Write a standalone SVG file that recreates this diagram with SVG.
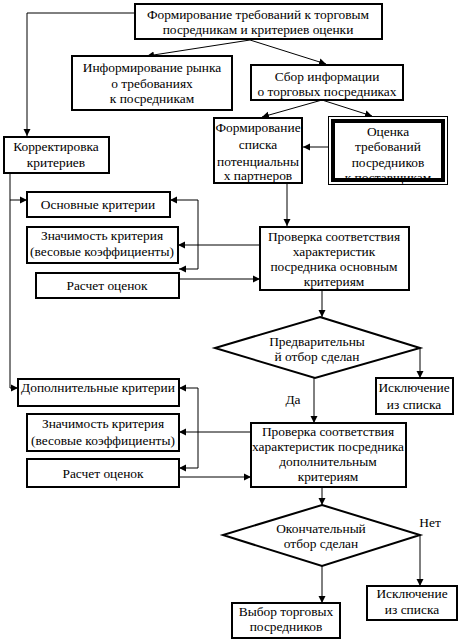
<svg xmlns="http://www.w3.org/2000/svg" width="459" height="642" viewBox="0 0 459 642">
<defs>
<marker id="ah" markerUnits="userSpaceOnUse" markerWidth="8" markerHeight="8" refX="7" refY="4" orient="auto">
<path d="M0,0.5 L7,4 L0,7.5 Z" fill="#000"/>
</marker>
<style>
.b{fill:#fff;stroke:#000;stroke-width:2}
.t{font-family:"Liberation Serif","Times New Roman",serif;font-size:13.4px;fill:#000;text-anchor:middle}
.c{fill:none;stroke:#000;stroke-width:1}
.a{marker-end:url(#ah)}
</style>
</defs>
<rect width="459" height="642" fill="#fff"/>
<g id="connectors">
<polyline class="c a" points="135,13 27,13 27,136"/>
<line class="c a" x1="250" y1="40" x2="147" y2="56"/>
<line class="c a" x1="250" y1="40" x2="326" y2="64"/>
<line class="c a" x1="322" y1="100" x2="262" y2="117"/>
<line class="c a" x1="322" y1="100" x2="372" y2="116"/>
<line class="c a" x1="328" y1="147" x2="303" y2="147"/>
<line class="c a" x1="287" y1="183" x2="287" y2="226"/>
<polyline class="c a" points="10,173 10,388 18,388"/>
<line class="c a" x1="10" y1="200" x2="27" y2="200"/>
<line class="c a" x1="260" y1="245" x2="178" y2="245"/>
<polyline class="c a" points="198,269 198,200 170,200"/>
<line class="c a" x1="198" y1="269" x2="179" y2="269"/>
<line class="c a" x1="179" y1="279" x2="260" y2="279"/>
<line class="c a" x1="322" y1="290" x2="322" y2="317"/>
<line class="c a" x1="420" y1="348" x2="420" y2="378"/>
<line class="c a" x1="314" y1="378" x2="314" y2="423"/>
<line class="c a" x1="251" y1="432" x2="179" y2="432"/>
<polyline class="c a" points="198,468 198,388 179,388"/>
<line class="c a" x1="198" y1="468" x2="179" y2="468"/>
<line class="c a" x1="179" y1="477" x2="251" y2="477"/>
<line class="c a" x1="322" y1="487" x2="322" y2="505"/>
<line class="c a" x1="420" y1="535" x2="420" y2="586"/>
<line class="c a" x1="322" y1="566" x2="322" y2="603"/>
</g>
<g id="n_top">
<rect class="b" x="135" y="4" width="247" height="35"/>
<text class="t" x="258" y="19">Формирование требований к торговым</text>
<text class="t" x="258" y="34">посредникам и критериев оценки</text>
</g>
<g id="n_inform">
<rect class="b" x="72" y="56" width="160" height="54"/>
<text class="t" x="152" y="72">Информирование рынка</text>
<text class="t" x="152" y="88">о требованиях</text>
<text class="t" x="152" y="103">к посредникам</text>
</g>
<g id="n_sbor">
<rect class="b" x="251" y="65" width="152" height="35"/>
<text class="t" x="327" y="81">Сбор информации</text>
<text class="t" x="327" y="96">о торговых посредниках</text>
</g>
<g id="n_spisok">
<rect class="b" x="214" y="118" width="88" height="65"/>
<text class="t" x="258" y="132">Формирование</text>
<text class="t" x="258" y="149">списка</text>
<text class="t" x="258" y="166">потенциальны</text>
<text class="t" x="258" y="180">х партнеров</text>
</g>
<g id="n_ocenka">
<rect x="328.5" y="116.5" width="119" height="68" fill="#fff" stroke="#000" stroke-width="1"/>
<text class="t" x="388" y="136">Оценка</text>
<text class="t" x="388" y="151">требований</text>
<text class="t" x="388" y="167">посредников</text>
<text class="t" x="388" y="182">к поставщикам</text>
<rect x="333" y="121" width="110" height="59" fill="none" stroke="#000" stroke-width="4"/>
</g>
<g id="n_korr">
<rect class="b" x="4" y="137" width="105" height="36"/>
<text class="t" x="56" y="151">Корректировка</text>
<text class="t" x="56" y="167">критериев</text>
</g>
<g id="n_osn">
<rect class="b" x="27" y="192" width="143" height="25"/>
<text class="t" x="98" y="209">Основные критерии</text>
</g>
<g id="n_znach1">
<rect class="b" x="27" y="227" width="151" height="36"/>
<text class="t" x="102" y="240">Значимость критерия</text>
<text class="t" x="102" y="256">(весовые коэффициенты)</text>
</g>
<g id="n_rasch1">
<rect class="b" x="36" y="273" width="143" height="25"/>
<text class="t" x="107" y="290">Расчет оценок</text>
</g>
<g id="n_prov1">
<rect class="b" x="260" y="227" width="149" height="63"/>
<text class="t" x="334" y="241">Проверка соответствия</text>
<text class="t" x="334" y="256">характеристик</text>
<text class="t" x="334" y="271">посредника основным</text>
<text class="t" x="334" y="286">критериям</text>
</g>
<g id="n_dec1">
<polygon class="b" points="320,317 420,348 315,378 215,348"/>
<text class="t" x="317" y="346">Предварительны</text>
<text class="t" x="317" y="361">й отбор сделан</text>
</g>
<g id="n_iskl1">
<rect class="b" x="376" y="378" width="77" height="36"/>
<text class="t" x="414" y="392">Исключение</text>
<text class="t" x="414" y="409">из списка</text>
</g>
<text class="t" x="293" y="404">Да</text>
<g id="n_dop">
<rect class="b" x="18" y="379" width="161" height="27"/>
<text class="t" x="98" y="392">Дополнительные критерии</text>
</g>
<g id="n_znach2">
<rect class="b" x="27" y="414" width="152" height="37"/>
<text class="t" x="103" y="428">Значимость критерия</text>
<text class="t" x="103" y="445">(весовые коэффициенты)</text>
</g>
<g id="n_rasch2">
<rect class="b" x="27" y="459" width="152" height="28"/>
<text class="t" x="103" y="478">Расчет оценок</text>
</g>
<g id="n_prov2">
<rect class="b" x="251" y="423" width="155" height="64"/>
<text class="t" x="328" y="436">Проверка соответствия</text>
<text class="t" x="328" y="451">характеристик посредника</text>
<text class="t" x="328" y="466">дополнительным</text>
<text class="t" x="328" y="481">критериям</text>
</g>
<g id="n_dec2">
<polygon class="b" points="322,505 420,535 322,566 223,535"/>
<text class="t" x="321" y="533">Окончательный</text>
<text class="t" x="321" y="548">отбор сделан</text>
</g>
<text class="t" x="430" y="527">Нет</text>
<g id="n_iskl2">
<rect class="b" x="367" y="586" width="90" height="34"/>
<text class="t" x="412" y="598">Исключение</text>
<text class="t" x="412" y="614">из списка</text>
</g>
<g id="n_vybor">
<rect class="b" x="232" y="603" width="108" height="35"/>
<text class="t" x="286" y="616">Выбор торговых</text>
<text class="t" x="286" y="631">посредников</text>
</g>
</svg>
